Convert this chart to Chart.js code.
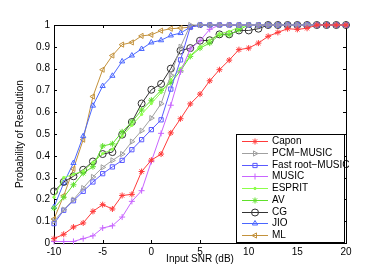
<!DOCTYPE html>
<html>
<head>
<meta charset="utf-8">
<script src="https://cdn.jsdelivr.net/npm/chart.js@4.4.0/dist/chart.umd.min.js"></script>
<style>
  html, body { margin: 0; padding: 0; background: #fff; }
  canvas { display: block; }
</style>
</head>
<body>
<canvas id="c" width="377" height="268"></canvas>
<script>
// SNR points (dB)
const snr = [-10, -9, -8, -7, -6, -5, -4, -3, -2, -1, 0, 1, 2, 3, 4, 5, 6, 7, 8, 9, 10,
             11, 12, 13, 14, 15, 16, 17, 18, 19, 20];

const capon = [0.02, 0.04, 0.073, 0.092, 0.145, 0.176, 0.156, 0.218, 0.223, 0.328, 0.38,
               0.408, 0.505, 0.57, 0.638, 0.683, 0.744, 0.795, 0.839, 0.887, 0.894,
               0.917, 0.948, 0.966, 0.983, 0.98, 0.985, 1, 1, 1, 1];
const pcmMusic = [0.1, 0.153, 0.199, 0.252, 0.303, 0.347, 0.379, 0.408, 0.465, 0.515, 0.573,
                  0.639, 0.77, 0.9, 1, 1, 1, 1, 1, 1, 1,
                  1, 1, 1, 1, 1, 1, 1, 1, 1, 1];
const fastRootMusic = [0.089, 0.15, 0.194, 0.237, 0.28, 0.318, 0.349, 0.379, 0.428, 0.474, 0.52,
                       0.565, 0.706, 0.84, 0.99, 1, 1, 1, 1, 1, 1,
                       1, 1, 1, 1, 1, 1, 1, 1, 1, 1];
const music = [0.007, 0.007, 0.007, 0.02, 0.033, 0.069, 0.079, 0.119, 0.191, 0.24, 0.374,
               0.503, 0.632, 0.785, 0.89, 0.928, 0.98, 1, 1, 1, 1,
               1, 1, 1, 1, 1, 1, 1, 1, 1, 1];
const esprit = [0.21, 0.3, 0.315, 0.33, 0.37, 0.41, 0.43, 0.49, 0.54, 0.59, 0.64,
                0.69, 0.75, 0.8, 0.86, 0.9, 0.93, 0.96, 0.97, 0.99, 1,
                1, 1, 1, 1, 1, 1, 1, 1, 1, 1];
const av = [0.16, 0.21, 0.267, 0.32, 0.35, 0.445, 0.455, 0.51, 0.555, 0.61, 0.655,
            0.7, 0.735, 0.79, 0.856, 0.894, 0.917, 0.955, 0.955, 0.978, 1,
            1, 1, 1, 1, 1, 1, 1, 1, 1, 1];
const cg = [0.237, 0.28, 0.306, 0.336, 0.374, 0.408, 0.417, 0.497, 0.555, 0.64, 0.703,
            0.73, 0.8, 0.883, 0.894, 0.928, 0.93, 0.957, 0.957, 0.975, 0.975,
            0.983, 1, 1, 1, 1, 1, 1, 1, 1, 1];
const jio = [0.165, 0.275, 0.367, 0.49, 0.63, 0.72, 0.767, 0.833, 0.86, 0.89, 0.92,
             0.93, 0.952, 0.963, 0.99, 1, 1, 1, 1, 1, 1,
             1, 1, 1, 1, 1, 1, 1, 1, 1, 1];
const ml = [0.11, 0.217, 0.34, 0.474, 0.672, 0.795, 0.86, 0.91, 0.92, 0.95, 0.955,
            0.974, 0.983, 0.986, 0.99, 1, 1, 1, 1, 1, 1,
            1, 1, 1, 1, 1, 1, 1, 1, 1, 1];

const xTicks = [-10, -5, 0, 5, 10, 15, 20];
const yTicks = [0, 0.1, 0.2, 0.3, 0.4, 0.5, 0.6, 0.7, 0.8, 0.9, 1];

const FONT = '"Liberation Sans", Arial, Helvetica, sans-serif';

function series(label, values, color, style, extra) {
  return Object.assign({
    label: label,
    data: snr.map((x, i) => ({ x: x, y: values[i] })),
    borderColor: color,
    backgroundColor: color,
    pointBorderColor: color,
    pointBackgroundColor: 'rgba(0,0,0,0)',
    borderWidth: 1,
    pointBorderWidth: 1,
    pointStyle: style,
    pointRadius: 3,
    pointRotation: 0,
    tension: 0,
    clip: false
  }, extra || {});
}

// box around the axes with inward ticks, like a matlab figure
const framePlugin = {
  id: 'frame',
  beforeDatasetsDraw(chart) {
    const { ctx, chartArea: a, scales } = chart;
    ctx.save();
    ctx.strokeStyle = '#000';
    ctx.lineWidth = 1;
    ctx.strokeRect(Math.round(a.left) + 0.5, Math.round(a.top) + 0.5,
                   Math.round(a.right - a.left), Math.round(a.bottom - a.top));
    ctx.beginPath();
    xTicks.forEach((v) => {
      const px = Math.round(scales.x.getPixelForValue(v)) + 0.5;
      ctx.moveTo(px, a.bottom); ctx.lineTo(px, a.bottom - 3);
      ctx.moveTo(px, a.top); ctx.lineTo(px, a.top + 3);
    });
    yTicks.forEach((v) => {
      const py = Math.round(scales.y.getPixelForValue(v)) + 0.5;
      ctx.moveTo(a.left, py); ctx.lineTo(a.left + 3, py);
      ctx.moveTo(a.right, py); ctx.lineTo(a.right - 3, py);
    });
    ctx.stroke();
    ctx.restore();
  }
};

const boxLegend = {
  id: 'boxLegend',
  afterDraw(chart) {
    const { ctx, chartArea: a } = chart;
    const w = 108, h = 108;
    const x0 = Math.round(a.right) - 2 - w;
    const y0 = Math.round(a.bottom) - 1 - h;
    ctx.save();
    ctx.fillStyle = '#fff';
    ctx.fillRect(x0, y0, w, h);
    ctx.strokeStyle = '#000';
    ctx.lineWidth = 1;
    ctx.strokeRect(x0 + 0.5, y0 + 0.5, w, h);
    ctx.font = '10px ' + FONT;
    ctx.textBaseline = 'middle';
    chart.data.datasets.forEach((ds, i) => {
      const y = Math.round(y0 + 7 + i * 11.75) + 0.5;
      ctx.strokeStyle = ds.borderColor;
      ctx.beginPath();
      ctx.moveTo(x0 + 6, y);
      ctx.lineTo(x0 + 32, y);
      ctx.stroke();
      ctx.fillStyle = ds.pointBackgroundColor;
      Chart.helpers.drawPoint(ctx, {
        pointStyle: ds.pointStyle,
        rotation: ds.pointRotation,
        radius: ds.pointRadius,
        borderWidth: 1
      }, x0 + 19, y);
      ctx.fillStyle = '#000';
      ctx.fillText(ds.label, x0 + 36, y);
    });
    ctx.restore();
  }
};

new Chart(document.getElementById('c'), {
  type: 'line',
  data: {
    datasets: [
      series('Capon', capon, '#ff3a3a', 'star'),
      series('PCM\u2212MUSIC', pcmMusic, '#a0a0a0', 'triangle', { pointRotation: 90 }),
      series('Fast root\u2212MUSIC', fastRootMusic, '#5a5aff', 'rect', { pointRadius: 3 }),
      series('MUSIC', music, '#c865ff', 'cross'),
      series('ESPRIT', esprit, '#8cff4a', 'circle', { pointRadius: 1.2, pointBackgroundColor: '#8cff4a' }),
      series('AV', av, '#5ee02a', 'star'),
      series('CG', cg, '#333333', 'circle', { pointRadius: 3.5 }),
      series('JIO', jio, '#4a66ff', 'triangle'),
      series('ML', ml, '#c3923c', 'triangle', { pointRotation: -90 })
    ]
  },
  options: {
    responsive: false,
    animation: false,
    events: [],
    layout: { padding: { left: 0, right: 31, top: 25, bottom: 0 } },
    plugins: {
      legend: { display: false },
      tooltip: { enabled: false }
    },
    scales: {
      x: {
        type: 'linear',
        min: -10,
        max: 20,
        afterBuildTicks: (s) => { s.ticks = xTicks.map((v) => ({ value: v })); },
        afterFit: (s) => { s.height = 25; },
        grid: { display: false, drawTicks: false },
        border: { display: false },
        ticks: { color: '#000', font: { size: 10, family: FONT }, padding: 3, maxRotation: 0 },
        title: { display: true, text: 'Input SNR (dB)', color: '#000',
                 font: { size: 10, family: FONT }, padding: { top: 0, bottom: 3 } }
      },
      y: {
        min: 0,
        max: 1,
        afterBuildTicks: (s) => { s.ticks = yTicks.map((v) => ({ value: v })); },
        afterFit: (s) => { s.width = 54; },
        grid: { display: false, drawTicks: false },
        border: { display: false },
        ticks: { color: '#000', font: { size: 10, family: FONT }, padding: 4,
                 callback: (v) => String(v) },
        title: { display: true, text: 'Probability of Resolution', color: '#000',
                 font: { size: 10, family: FONT }, padding: { top: 14, bottom: 0 } }
      }
    }
  },
  plugins: [framePlugin, boxLegend]
});
</script>
</body>
</html>
